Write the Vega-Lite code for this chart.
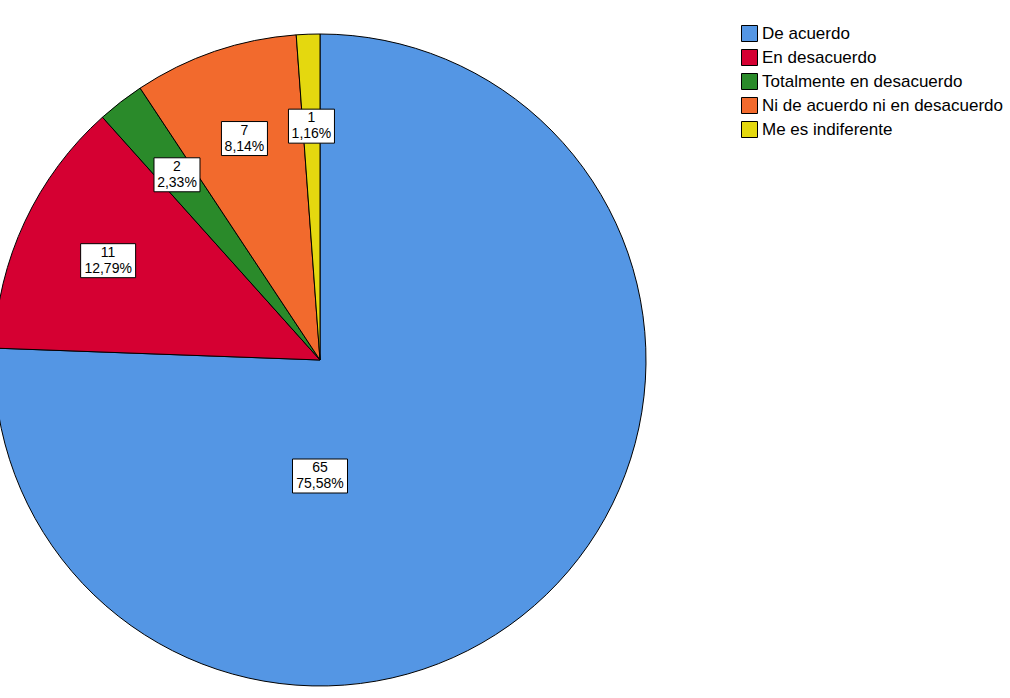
{
  "$schema": "https://vega.github.io/schema/vega-lite/v6.json",
  "width": 640,
  "height": 720,
  "autosize": {"type": "none"},
  "padding": {"left": 0, "top": 0, "right": 370, "bottom": 0},
  "background": "white",
  "config": {"view": {"stroke": null}, "font": "Liberation Sans"},
  "data": {
    "values": [
      {"categoria": "De acuerdo", "n": 65},
      {"categoria": "En desacuerdo", "n": 11},
      {"categoria": "Totalmente en desacuerdo", "n": 2},
      {"categoria": "Ni de acuerdo ni en desacuerdo", "n": 7},
      {"categoria": "Me es indiferente", "n": 1}
    ]
  },
  "transform": [
    {"window": [{"op": "row_number", "as": "idx"}]},
    {"joinaggregate": [{"op": "sum", "field": "n", "as": "total"}]},
    {"window": [{"op": "sum", "field": "n", "as": "cum"}], "sort": [{"field": "idx"}], "frame": [null, 0]},
    {"calculate": "(datum.cum - datum.n / 2) / datum.total * 2 * PI", "as": "mid"},
    {"calculate": "datum.n / datum.total > 0.5 ? PI : datum.mid", "as": "ang"},
    {"calculate": "datum.n / datum.total > 0.5 ? 116 : 234", "as": "rad"},
    {"calculate": "datum.rad * sin(datum.ang)", "as": "lx"},
    {"calculate": "datum.rad * cos(datum.ang)", "as": "ly"},
    {"calculate": "replace(format(datum.n / datum.total * 100, '.2f'), '.', ',') + '%'", "as": "pct"},
    {"calculate": "datum.n + '\\n' + datum.pct", "as": "etiqueta"},
    {"calculate": "length(datum.pct) * 9 + 1", "as": "bw"},
    {"calculate": "datum.lx - datum.bw / 2", "as": "bx1"},
    {"calculate": "datum.lx + datum.bw / 2", "as": "bx2"},
    {"calculate": "datum.ly - 17", "as": "by1"},
    {"calculate": "datum.ly + 17", "as": "by2"}
  ],
  "layer": [
    {
      "mark": {"type": "arc", "outerRadius": 326, "stroke": "black", "strokeWidth": 1},
      "encoding": {
        "theta": {"field": "n", "type": "quantitative", "stack": true},
        "order": {"field": "idx", "type": "quantitative"},
        "color": {
          "field": "categoria",
          "type": "nominal",
          "scale": {
            "domain": ["De acuerdo", "En desacuerdo", "Totalmente en desacuerdo", "Ni de acuerdo ni en desacuerdo", "Me es indiferente"],
            "range": ["#5496E4", "#D50032", "#2A8A2A", "#F26A2D", "#E4D80F"]
          },
          "legend": {
            "title": null,
            "orient": "none",
            "legendX": 741,
            "legendY": 25,
            "symbolType": "square",
            "symbolSize": 256,
            "symbolStrokeColor": "black",
            "symbolStrokeWidth": 1,
            "symbolOpacity": 1,
            "labelFontSize": 17,
            "labelFont": "Liberation Sans",
            "labelColor": "black",
            "labelLimit": 400,
            "rowPadding": 3,
            "labelOffset": 4
          }
        }
      }
    },
    {
      "mark": {"type": "rect", "fill": "white", "stroke": "black", "strokeWidth": 1},
      "encoding": {
        "x": {"field": "bx1", "type": "quantitative", "scale": {"domain": [-320, 320], "nice": false, "zero": false}, "axis": null},
        "x2": {"field": "bx2"},
        "y": {"field": "by1", "type": "quantitative", "scale": {"domain": [-360, 360], "nice": false, "zero": false}, "axis": null},
        "y2": {"field": "by2"}
      }
    },
    {
      "mark": {"type": "text", "lineBreak": "\n", "fontSize": 14, "lineHeight": 16, "font": "Liberation Sans", "baseline": "middle", "align": "center", "color": "black", "dy": -8},
      "encoding": {
        "x": {"field": "lx", "type": "quantitative", "scale": {"domain": [-320, 320], "nice": false, "zero": false}, "axis": null},
        "y": {"field": "ly", "type": "quantitative", "scale": {"domain": [-360, 360], "nice": false, "zero": false}, "axis": null},
        "text": {"field": "etiqueta", "type": "nominal"}
      }
    }
  ]
}
